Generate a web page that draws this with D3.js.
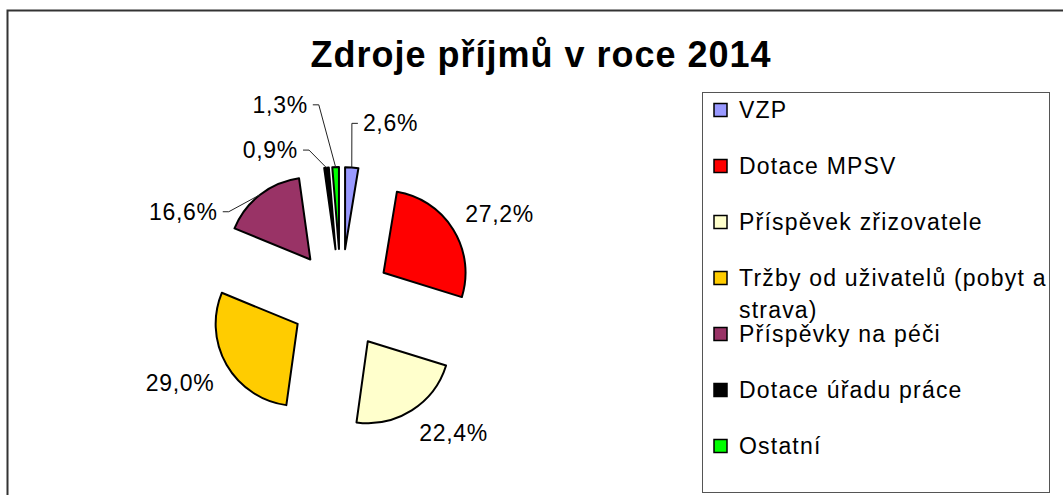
<!DOCTYPE html>
<html>
<head>
<meta charset="utf-8">
<script src="https://cdn.jsdelivr.net/npm/d3@7"></script>
<style>
body { margin: 0; background: #fff; }
svg { display: block; font-family: "Liberation Sans", Arial, sans-serif; }
</style>
</head>
<body>
<div id="chart"></div>
<script>
// data
const categories = ["VZP", "Dotace MPSV", "Příspěvek zřizovatele", "Tržby od uživatelů (pobyt a strava)",
                    "Příspěvky na péči", "Dotace úřadu práce", "Ostatní"];
const shares = [2.6, 27.2, 22.4, 29.0, 16.6, 0.9, 1.3];
const colors = ["#9999ff", "#ff0000", "#ffffcc", "#ffcc00", "#993366", "#000000", "#00ff00"];
const title = "Zdroje příjmů v roce 2014";

// labels that were dragged away in the original (angle in degrees, distance from pie centre)
const movedLabels = [{a: 7.1, r: 177}, null, null, null, {a: 305.3, r: 151}, {a: 343.9, r: 155}, {a: 350.3, r: 197}];

const width = 1063, height = 495;
const cx = 341, cy = 299, radius = 82, explode = 50;

const fmt = v => d3.format(".1f")(v).replace(".", ",") + "%";

const svg = d3.select("#chart").append("svg")
  .attr("width", width)
  .attr("height", height);

// outer frame (runs off the right and bottom edges)
svg.append("rect")
  .attr("x", 7.5).attr("y", 10.5)
  .attr("width", 1100).attr("height", 600)
  .attr("fill", "none")
  .attr("stroke", "#333")
  .attr("stroke-width", 2);

svg.append("text")
  .attr("x", 541).attr("y", 67)
  .attr("text-anchor", "middle")
  .attr("font-size", 36)
  .attr("font-weight", "bold")
  .attr("letter-spacing", 1)
  .text(title);

const pie = d3.pie().sort(null).value(d => d);
const arcs = pie(shares);
const arc = d3.arc().innerRadius(0).outerRadius(radius);

const mid = d => (d.startAngle + d.endAngle) / 2;
const polar = (a, r) => [cx + r * Math.sin(a), cy - r * Math.cos(a)];

const pieG = svg.append("g");

pieG.selectAll("path")
  .data(arcs)
  .join("path")
  .attr("transform", d => {
    const [x, y] = polar(mid(d), explode);
    return `translate(${x},${y})`;
  })
  .attr("d", arc)
  .attr("fill", (d, i) => colors[i])
  .attr("stroke", "#000")
  .attr("stroke-width", 2)
  .attr("stroke-linejoin", "round");

// data labels
const labelG = svg.append("g")
  .attr("font-size", 23)
  .attr("letter-spacing", 0.7)
  .attr("fill", "#000");

arcs.forEach((d, i) => {
  const a = mid(d);
  const edge = polar(a, explode + radius);
  const moved = movedLabels[i];
  if (!moved) {
    // outside end
    const gap = 14;
    const x = edge[0] + gap * Math.sin(a);
    const y = edge[1] - gap * Math.cos(a);
    labelG.append("text")
      .attr("x", x)
      .attr("y", Math.cos(a) > 0 ? y : y + 19)
      .attr("text-anchor", Math.sin(a) >= 0 ? "start" : "end")
      .text(fmt(shares[i]));
  } else {
    const [lx, ly] = polar(moved.a * Math.PI / 180, moved.r);
    const right = lx > edge[0];
    const s = right ? -1 : 1;
    labelG.append("text")
      .attr("x", lx)
      .attr("y", ly + 8)
      .attr("text-anchor", right ? "start" : "end")
      .text(fmt(shares[i]));
    svg.append("polyline")
      .attr("points", [[lx + s * 5, ly], [lx + s * 11, ly], edge].map(p => p.join(",")).join(" "))
      .attr("fill", "none")
      .attr("stroke", "#222")
      .attr("stroke-width", 1);
  }
});

// legend
const legendX = 702, legendY = 92, legendW = 347, legendH = 400;
const legend = svg.append("g");

legend.append("rect")
  .attr("x", legendX + 0.5).attr("y", legendY + 0.5)
  .attr("width", legendW).attr("height", legendH)
  .attr("fill", "#fff")
  .attr("stroke", "#555")
  .attr("stroke-width", 1);

const rowY = d3.scalePoint().domain(d3.range(categories.length)).range([110, 446]);

const rows = legend.selectAll("g.row")
  .data(categories)
  .join("g")
  .attr("class", "row")
  .attr("transform", (d, i) => `translate(0,${rowY(i)})`);

rows.append("rect")
  .attr("x", 714).attr("y", -6.5)
  .attr("width", 13).attr("height", 13)
  .attr("fill", (d, i) => colors[i])
  .attr("stroke", "#000")
  .attr("stroke-width", 1.5);

rows.append("text")
  .attr("x", 739)
  .attr("y", 8)
  .attr("font-size", 23)
  .attr("letter-spacing", 1.2)
  .each(function(d) { wrap(d3.select(this), d, 312); });

function wrap(text, str, maxW) {
  const words = str.split(" ");
  let line = [];
  let tspan = text.append("tspan").attr("x", 739).attr("dy", 0);
  words.forEach(w => {
    line.push(w);
    tspan.text(line.join(" "));
    if (tspan.node().getComputedTextLength() > maxW && line.length > 1) {
      line.pop();
      tspan.text(line.join(" "));
      line = [w];
      tspan = text.append("tspan").attr("x", 739).attr("dy", 32).text(w);
    }
  });
}
</script>
</body>
</html>
